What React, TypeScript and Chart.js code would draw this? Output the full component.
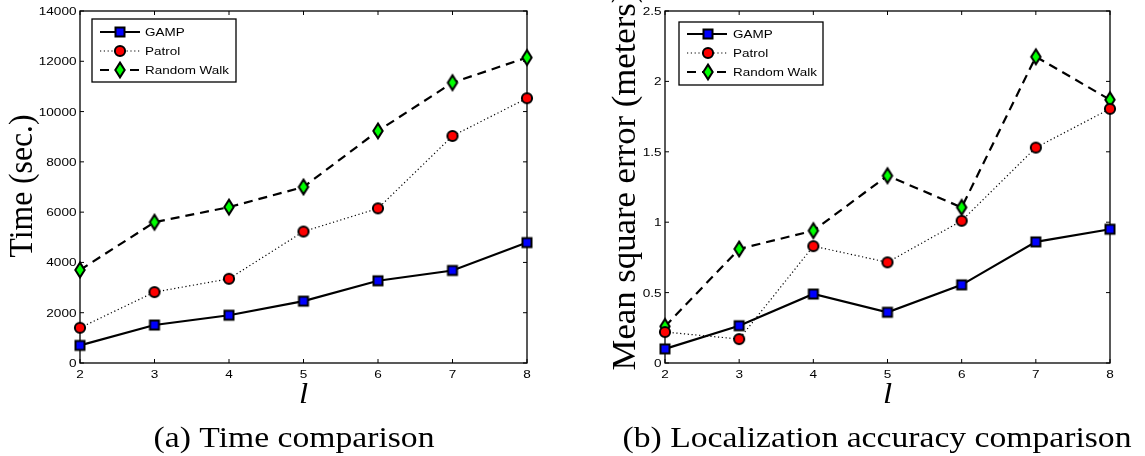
import React, { useEffect, useRef } from "react";
import { Chart, registerables } from "chart.js";

Chart.register(...registerables);

// x-axis categories (parameter l)
const lValues = ["2", "3", "4", "5", "6", "7", "8"];

// (a) running time in seconds
const timeGamp = [700, 1510, 1900, 2460, 3270, 3680, 4790];
const timePatrol = [1400, 2820, 3350, 5230, 6150, 9030, 10530];
const timeRandomWalk = [3700, 5600, 6200, 7000, 9230, 11150, 12150];
const timeTicks = [0, 2000, 4000, 6000, 8000, 10000, 12000, 14000];
const timeTickLabels = ["0", "2000", "4000", "6000", "8000", "10000", "12000", "14000"];

// (b) mean square error in meters
const mseGamp = [0.1, 0.265, 0.49, 0.36, 0.555, 0.86, 0.95];
const msePatrol = [0.22, 0.17, 0.83, 0.715, 1.01, 1.53, 1.805];
const mseRandomWalk = [0.26, 0.81, 0.94, 1.33, 1.105, 2.175, 1.87];
const mseTicks = [0, 0.5, 1, 1.5, 2, 2.5];
const mseTickLabels = ["0", "0.5", "1", "1.5", "2", "2.5"];

const seriesNames = ["GAMP", "Patrol", "Random Walk"];

const SANS = '"Liberation Sans", Arial, Helvetica, sans-serif';
const SERIF = '"Liberation Serif", "Times New Roman", serif';

type Kind = "square" | "circle" | "diamond";

function makeMarker(kind: Kind): HTMLCanvasElement {
  const c = document.createElement("canvas");
  const w = 18;
  const h = kind === "diamond" ? 22 : 18;
  c.width = w;
  c.height = h;
  const ctx = c.getContext("2d")!;
  const cx = w / 2;
  const cy = h / 2;
  ctx.lineWidth = 2;
  ctx.strokeStyle = "#000";
  ctx.lineJoin = "miter";
  ctx.beginPath();
  if (kind === "square") {
    ctx.rect(cx - 4.5, cy - 4.5, 9, 9);
    ctx.fillStyle = "#0000ff";
  } else if (kind === "circle") {
    ctx.arc(cx, cy, 5.1, 0, Math.PI * 2);
    ctx.fillStyle = "#ff0000";
  } else {
    ctx.moveTo(cx, cy - 7.4);
    ctx.lineTo(cx + 4.7, cy);
    ctx.lineTo(cx, cy + 7.4);
    ctx.lineTo(cx - 4.7, cy);
    ctx.closePath();
    ctx.fillStyle = "#00ff00";
  }
  ctx.fill();
  ctx.stroke();
  return c;
}

type LineStyle = { width: number; dash: number[] };
const lineStyles: LineStyle[] = [
  { width: 2.2, dash: [] },
  { width: 1.2, dash: [1.2, 2.6] },
  { width: 2.2, dash: [9, 6] },
];
const markerKinds: Kind[] = ["square", "circle", "diamond"];

type PanelSpec = {
  left: number;
  width: number;
  series: number[][];
  yMax: number;
  yTicks: number[];
  yTickLabels: string[];
  yTitle: string;
  caption: string;
  pad: { left: number; right: number; top: number; bottom: number };
  legend: { x: number; y: number; w: number; h: number; rows: number[]; x0: number; x1: number; mx: number; tx: number };
  yTitleX: number;
  yTitleY: number;
  yTitleSize: number;
  yTitleAlong: number;
  yTitlePerp: number;
  captionX: number;
};

const panels: PanelSpec[] = [
  {
    left: 0,
    width: 572,
    series: [timeGamp, timePatrol, timeRandomWalk],
    yMax: 14000,
    yTicks: timeTicks,
    yTickLabels: timeTickLabels,
    yTitle: "Time (sec.)",
    caption: "(a) Time comparison",
    pad: { left: 80, right: 45, top: 11, bottom: 93 },
    legend: { x: 92, y: 19, w: 144, h: 63, rows: [32, 51, 70], x0: 100, x1: 140, mx: 120, tx: 145 },
    yTitleX: 32,
    yTitleY: 186,
    yTitleSize: 29,
    yTitleAlong: 1.09,
    yTitlePerp: 1.15,
    captionX: 294,
  },
  {
    left: 572,
    width: 573,
    series: [mseGamp, msePatrol, mseRandomWalk],
    yMax: 2.5,
    yTicks: mseTicks,
    yTickLabels: mseTickLabels,
    yTitle: "Mean square error (meters)",
    caption: "(b) Localization accuracy comparison",
    pad: { left: 93, right: 35, top: 11, bottom: 93 },
    legend: { x: 107, y: 22, w: 144, h: 63, rows: [34, 53, 72], x0: 115, x1: 155, mx: 136, tx: 161 },
    yTitleX: 63,
    yTitleY: 181,
    yTitleSize: 31,
    yTitleAlong: 1.12,
    yTitlePerp: 1.07,
    captionX: 305,
  },
];

function stretchedText(
  ctx: CanvasRenderingContext2D,
  text: string,
  x: number,
  y: number,
  sx: number,
  align: CanvasTextAlign
) {
  ctx.save();
  ctx.translate(x, y);
  ctx.scale(sx, 1);
  ctx.textAlign = align;
  ctx.textBaseline = "alphabetic";
  ctx.fillText(text, 0, 0);
  ctx.restore();
}

function seg(ctx: CanvasRenderingContext2D, x0: number, y0: number, x1: number, y1: number) {
  ctx.beginPath();
  ctx.moveTo(x0, y0);
  ctx.lineTo(x1, y1);
  ctx.stroke();
}

function Panel({ spec }: { spec: PanelSpec }) {
  const ref = useRef<HTMLCanvasElement | null>(null);

  useEffect(() => {
    const markers = markerKinds.map(makeMarker);

    const decor = {
      id: "panelDecor",
      beforeDatasetsDraw(chart: any) {
        const { ctx, chartArea: a, scales } = chart;
        ctx.save();
        ctx.strokeStyle = "#000";
        ctx.fillStyle = "#000";
        ctx.lineWidth = 1.3;
        ctx.strokeRect(a.left, a.top, a.right - a.left, a.bottom - a.top);
        ctx.lineWidth = 1;
        ctx.font = `11.5px ${SANS}`;
        spec.yTicks.forEach((v, i) => {
          const y = scales.y.getPixelForValue(v);
          seg(ctx, a.left, y, a.left + 4, y);
          seg(ctx, a.right, y, a.right - 4, y);
          stretchedText(ctx, spec.yTickLabels[i], a.left - 3.5, y + 4, 1.18, "right");
        });
        lValues.forEach((lab, i) => {
          const x = scales.x.getPixelForValue(i);
          seg(ctx, x, a.bottom, x, a.bottom - 4);
          seg(ctx, x, a.top, x, a.top + 4);
          stretchedText(ctx, lab, x, a.bottom + 15, 1.18, "center");
        });
        ctx.restore();
      },
      afterDatasetsDraw(chart: any) {
        const { ctx, chartArea: a } = chart;
        const L = spec.legend;
        ctx.save();
        // legend
        ctx.fillStyle = "#fff";
        ctx.fillRect(L.x, L.y, L.w, L.h);
        ctx.strokeStyle = "#000";
        ctx.lineWidth = 1.3;
        ctx.strokeRect(L.x, L.y, L.w, L.h);
        seriesNames.forEach((name, i) => {
          const y = L.rows[i];
          const st = lineStyles[i];
          ctx.lineWidth = st.width;
          ctx.setLineDash(st.dash);
          seg(ctx, L.x0, y, L.x1, y);
          ctx.setLineDash([]);
          const m = markers[i];
          ctx.drawImage(m, L.mx - m.width / 2, y - m.height / 2);
          ctx.fillStyle = "#000";
          ctx.font = `11.5px ${SANS}`;
          stretchedText(ctx, name, L.tx, y + 4, 1.17, "left");
        });
        // y-axis title
        ctx.fillStyle = "#000";
        ctx.font = `${spec.yTitleSize}px ${SERIF}`;
        ctx.save();
        ctx.translate(spec.yTitleX, spec.yTitleY);
        ctx.rotate(-Math.PI / 2);
        ctx.scale(spec.yTitleAlong, spec.yTitlePerp);
        ctx.textAlign = "center";
        ctx.textBaseline = "alphabetic";
        ctx.fillText(spec.yTitle, 0, 0);
        ctx.restore();
        // x-axis title
        ctx.font = `italic 30px ${SERIF}`;
        stretchedText(ctx, "l", (a.left + a.right) / 2, 403, 1.1, "center");
        // caption
        ctx.font = `29px ${SERIF}`;
        stretchedText(ctx, spec.caption, spec.captionX, 447, 1.16, "center");
        ctx.restore();
      },
    };

    const chart = new Chart(ref.current!, {
      type: "line",
      data: {
        labels: lValues,
        datasets: spec.series.map((vals, i) => ({
          label: seriesNames[i],
          data: vals,
          borderColor: "#000",
          backgroundColor: "#000",
          borderWidth: lineStyles[i].width,
          borderDash: lineStyles[i].dash,
          borderCapStyle: "butt" as const,
          pointStyle: markers[i] as any,
          pointRadius: 5,
          pointHoverRadius: 5,
          tension: 0,
          fill: false,
          clip: false as any,
        })),
      },
      options: {
        responsive: false,
        animation: false,
        events: [],
        layout: { padding: spec.pad },
        scales: {
          x: { type: "category", display: false, offset: false },
          y: { type: "linear", display: false, min: 0, max: spec.yMax },
        },
        plugins: {
          legend: { display: false },
          tooltip: { enabled: false },
          title: { display: false },
        },
      },
      plugins: [decor],
    });
    return () => chart.destroy();
  }, []);

  return (
    <canvas
      ref={ref}
      width={spec.width}
      height={456}
      style={{ position: "absolute", left: spec.left, top: 0, width: spec.width, height: 456 }}
    />
  );
}

export default function App() {
  return (
    <div style={{ position: "absolute", left: 0, top: 0, width: 1145, height: 456, background: "#fff", overflow: "hidden" }}>
      {panels.map((p, i) => (
        <Panel key={i} spec={p} />
      ))}
    </div>
  );
}
